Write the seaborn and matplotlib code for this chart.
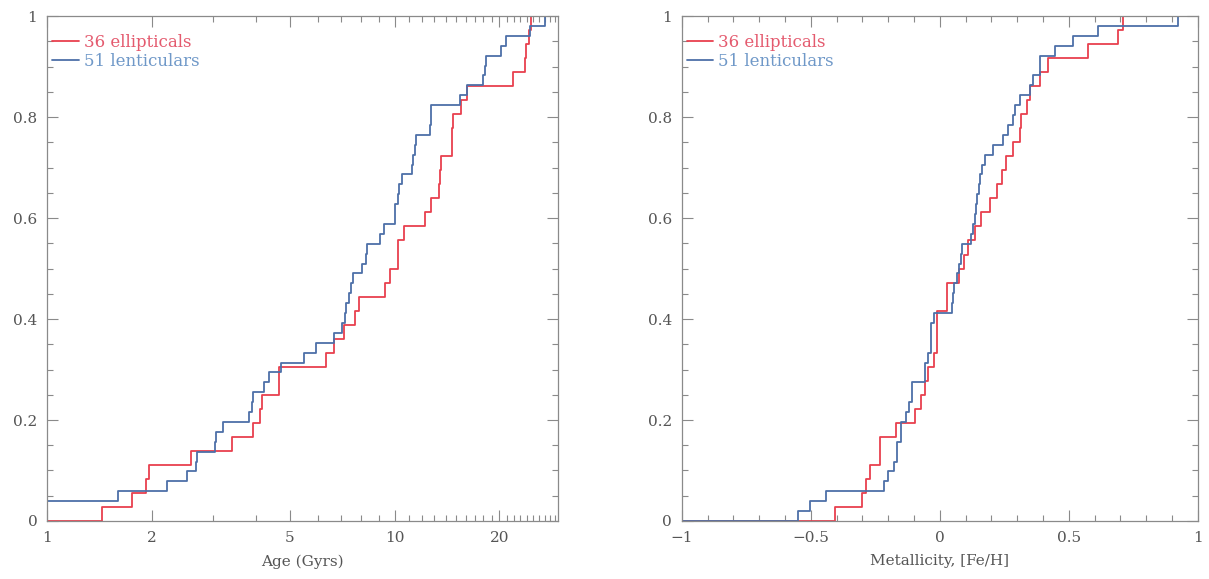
import numpy as np
import pandas as pd
import matplotlib
matplotlib.use("Agg")
import matplotlib.pyplot as plt
import matplotlib.ticker as mticker
import seaborn as sns

# ============================
# 1. Data
# ============================
age_ellipticals = [1.44, 1.75, 1.93, 1.97, 2.6, 3.41, 3.9, 4.1, 4.15, 4.65,
                   4.66, 6.34, 6.67, 7.14, 7.7, 7.9, 9.4, 9.7, 10.2, 10.25,
                   10.6, 12.2, 12.7, 13.4, 13.5, 13.6, 14.6, 14.62, 14.7, 15.5,
                   16.1, 21.9, 23.7, 23.8, 24.3, 24.6]
age_lenticulars = [0.9, 0.95, 1.6, 2.22, 2.52, 2.69, 2.7, 3.05, 3.07, 3.2,
                   3.81, 3.88, 3.9, 4.21, 4.35, 4.7, 5.49, 5.93, 6.68, 7.05,
                   7.2, 7.25, 7.4, 7.5, 7.6, 8.05, 8.25, 8.3, 9.1, 9.3,
                   10.0, 10.05, 10.2, 10.3, 10.5, 11.2, 11.3, 11.4, 11.5, 12.6,
                   12.7, 12.72, 15.4, 16.1, 17.9, 18.2, 18.3, 20.2, 20.9, 24.5,
                   27.0]

feh_ellipticals = [-0.406, -0.30, -0.286, -0.27, -0.234, -0.232, -0.17, -0.098,
                   -0.072, -0.059, -0.046, -0.022, -0.013, -0.012, -0.010, 0.026,
                   0.027, 0.075, 0.095, 0.11, 0.135, 0.16, 0.195, 0.22,
                   0.239, 0.258, 0.284, 0.31, 0.316, 0.336, 0.349, 0.388,
                   0.419, 0.575, 0.69, 0.708]
feh_lenticulars = [-0.551, -0.503, -0.44, -0.217, -0.2, -0.177, -0.168, -0.167,
                   -0.151, -0.150, -0.131, -0.118, -0.108, -0.107, -0.059, -0.058,
                   -0.046, -0.035, -0.034, -0.033, -0.022, 0.046, 0.05, 0.055,
                   0.065, 0.075, 0.08, 0.085, 0.12, 0.13, 0.135, 0.14,
                   0.145, 0.15, 0.155, 0.162, 0.174, 0.206, 0.245, 0.264,
                   0.284, 0.29, 0.31, 0.349, 0.36, 0.388, 0.39, 0.446,
                   0.516, 0.612, 0.922]

labels = ["36 ellipticals", "51 lenticulars"]
y_ticks = [0, 0.2, 0.4, 0.6, 0.8, 1]
y_ticklabels = ["0", "0.2", "0.4", "0.6", "0.8", "1"]
age_ticks = [1, 2, 5, 10, 20]
feh_ticks = [-1, -0.5, 0, 0.5, 1]
feh_ticklabels = ["\u22121", "\u22120.5", "0", "0.5", "1"]

# ============================
# 2. Style
# ============================
sns.set_style("ticks")
plt.rcParams["font.family"] = ["DejaVu Serif"]

red = "#e8404e"
blue = "#4d6fa8"
text_red = "#e45a6e"
text_blue = "#6f98c8"
grey = "#8a8a8a"
label_grey = "#555555"

fig = plt.figure(figsize=(12.09, 5.79), dpi=100)
ax1 = fig.add_axes([0.0389, 0.1002, 0.4227, 0.872])
ax2 = fig.add_axes([0.564, 0.1002, 0.4268, 0.872])

# ============================
# 3. Plots
# ============================
sns.ecdfplot(x=age_ellipticals, ax=ax1, color=red, lw=1.3, log_scale=True)
sns.ecdfplot(x=age_lenticulars, ax=ax1, color=blue, lw=1.3, log_scale=True)

sns.ecdfplot(x=feh_ellipticals, ax=ax2, color=red, lw=1.3)
sns.ecdfplot(x=feh_lenticulars, ax=ax2, color=blue, lw=1.3)

ax1.set_xlim(1, 29.5)
ax2.set_xlim(-1, 1)

# let the zero level of each ECDF start at the left axis edge
for ax in (ax1, ax2):
    left = ax.get_xlim()[0]
    for ln in ax.lines:
        xd = np.asarray(ln.get_xdata(), dtype=float).copy()
        if len(xd) and not np.isfinite(xd[0]) or (len(xd) and xd[0] <= 0 and ax is ax1):
            xd[0] = left
        elif len(xd) and xd[0] < left:
            xd[0] = left
        ln.set_xdata(xd)

ax1.set_xticks(age_ticks)
ax1.set_xticklabels([str(t) for t in age_ticks])
minor_age = [v for v in range(3, 30) if v not in age_ticks]
ax1.xaxis.set_minor_locator(mticker.FixedLocator(minor_age))
ax1.xaxis.set_minor_formatter(mticker.NullFormatter())
ax1.set_xlabel("Age (Gyrs)", labelpad=7)

ax2.set_xticks(feh_ticks)
ax2.set_xticklabels(feh_ticklabels)
ax2.xaxis.set_minor_locator(mticker.MultipleLocator(0.1))
ax2.set_xlabel("Metallicity, [Fe/H]", labelpad=7)

for ax in (ax1, ax2):
    ax.set_ylim(0, 1)
    ax.set_yticks(y_ticks)
    ax.set_yticklabels(y_ticklabels)
    ax.yaxis.set_minor_locator(mticker.MultipleLocator(0.05))
    ax.set_ylabel("")
    ax.tick_params(which="both", direction="in", top=True, right=True,
                   colors=grey, labelcolor=label_grey, labelsize=11, width=0.8)
    ax.tick_params(which="major", length=8, pad=7)
    ax.tick_params(which="minor", length=4)
    ax.xaxis.label.set_color(label_grey)
    ax.xaxis.label.set_size(11)
    for sp in ax.spines.values():
        sp.set_visible(True)
        sp.set_color(grey)
        sp.set_linewidth(0.9)

    # legend drawn with short line keys and coloured text
    h_red, = ax.plot([], [], color=red, lw=1.3)
    h_blue, = ax.plot([], [], color=blue, lw=1.3)
    leg = ax.legend([h_red, h_blue], labels, loc="upper left",
                    bbox_to_anchor=(-0.01, 0.985), frameon=False,
                    handlelength=1.6, handletextpad=0.3, labelspacing=0.15,
                    fontsize=12, borderaxespad=0.2)
    for txt, c in zip(leg.get_texts(), [text_red, text_blue]):
        txt.set_color(c)

fig.savefig("out.png", dpi=100)
